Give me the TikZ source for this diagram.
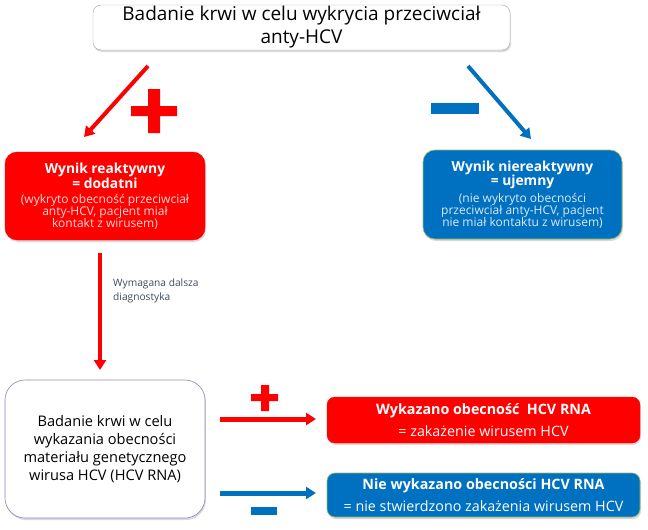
\documentclass[tikz,border=0pt]{standalone}
\usepackage{fontspec}
\setmainfont{Open Sans}
\usetikzlibrary{arrows.meta,positioning,shadows}
\definecolor{hcvred}{RGB}{255,0,0}
\definecolor{hcvblue}{RGB}{0,112,192}
\definecolor{hcvgreen}{RGB}{155,187,89}
\definecolor{hcvpurple}{RGB}{150,130,190}
\definecolor{hcvlabel}{RGB}{62,72,94}
\newcommand\hcvhead{\fontsize{13.8}{15}\selectfont\bfseries}
\newcommand\hcvsmall[1]{\fontsize{12}{11.5}\selectfont\mdseries\color{#1}}

\begin{document}
\begin{tikzpicture}[x=1pt, y=-1pt,
    box/.style={rectangle, rounded corners=12pt, align=center, inner sep=2pt,
                drop shadow={opacity=0.3, shadow xshift=1pt, shadow yshift=-2pt}},
    redbox/.style={box, fill=hcvred, draw=hcvred, text=white},
    bluebox/.style={box, fill=hcvblue, draw=hcvgreen, line width=0.6pt, text=white},
    redarrow/.style={draw=hcvred, line width=4pt, -{Triangle[length=10pt, width=12pt]}},
    bluearrow/.style={draw=hcvblue, line width=4pt, -{Triangle[length=10pt, width=12pt]}}
]
    \useasboundingbox (0,0) rectangle (648,530);

    % boxes
    \node[box, fill=white, draw=black!35, rounded corners=8pt, inner sep=1pt,
          minimum width=417pt, minimum height=45pt,
          font=\fontsize{19}{23}\selectfont] (test) at (301.5,27.5)
          {Badanie krwi w celu wykrycia przeciwciał\\anty-HCV};
    \node[redbox, minimum width=200pt, minimum height=88pt] (pos) at (105,196)
          {\hcvhead Wynik reaktywny\\\hcvhead = dodatni\\[3pt]
           \hcvsmall{white!85!hcvred}(wykryto obecność przeciwciał\\
           \hcvsmall{white!85!hcvred}anty-HCV, pacjent miał\\
           \hcvsmall{white!85!hcvred}kontakt z wirusem)};
    \node[bluebox, minimum width=199pt, minimum height=89pt] (neg) at (522.5,194.5)
          {\hcvhead Wynik niereaktywny\\\hcvhead = ujemny\\[3pt]
           \hcvsmall{white!85!hcvblue}(nie wykryto obecności\\
           \hcvsmall{white!85!hcvblue}przeciwciał anty-HCV, pacjent\\
           \hcvsmall{white!85!hcvblue}nie miał kontaktu z wirusem)};
    \node[box, fill=white, draw=hcvpurple, line width=0.6pt, rounded corners=20pt,
          minimum width=200pt, minimum height=138pt, font=\fontsize{14.6}{18}\selectfont] (rna) at (105,449)
          {Badanie krwi w celu\\wykazania obecności\\materiału genetycznego\\wirusa HCV (HCV RNA)};
    \node[redbox, rounded corners=8pt, minimum width=313pt, minimum height=46pt,
          font=\fontsize{14.3}{22}\selectfont] (yes) at (483.5,420)
          {\bfseries Wykazano obecność\ \ HCV RNA\\= zakażenie wirusem HCV};
    \node[bluebox, rounded corners=8pt, minimum width=313pt, minimum height=44pt,
          font=\fontsize{14.3}{22}\selectfont] (no) at (483.5,495)
          {\bfseries Nie wykazano obecności HCV RNA\\= nie stwierdzono zakażenia wirusem HCV};

    % connectors
    \coordinate (p1) at (148,66);  \coordinate (p2) at (84,137);
    \coordinate (n1) at (468,66);  \coordinate (n2) at (531,139);
    \coordinate (d1) at (100,253); \coordinate (d2) at (100,370);
    \coordinate (y1) at (220,419); \coordinate (y2) at (316,419);
    \coordinate (m1) at (220,493); \coordinate (m2) at (316,493);
    \draw[redarrow] (p1) -- (p2);
    \draw[bluearrow] (n1) -- (n2);
    \draw[redarrow] (d1) -- (d2);
    \draw[redarrow, line width=5pt] (y1) -- (y2);
    \draw[bluearrow, line width=5pt] (m1) -- (m2);

    \node[anchor=north west, align=left, text=hcvlabel, inner sep=0pt,
          font=\fontsize{10.2}{14}\selectfont] (more) at (113,279) {Wymagana dalsza\\diagnostyka};

    % plus / minus signs
    \fill[hcvred] (131,106) rectangle (177,116) (148,89) rectangle (160,133);
    \fill[hcvblue] (431,103) rectangle (479,114);
    \fill[hcvred] (251,394) rectangle (278,401) (261,385) rectangle (269,411);
    \fill[hcvblue] (251,507) rectangle (277,515);
\end{tikzpicture}
\end{document}
